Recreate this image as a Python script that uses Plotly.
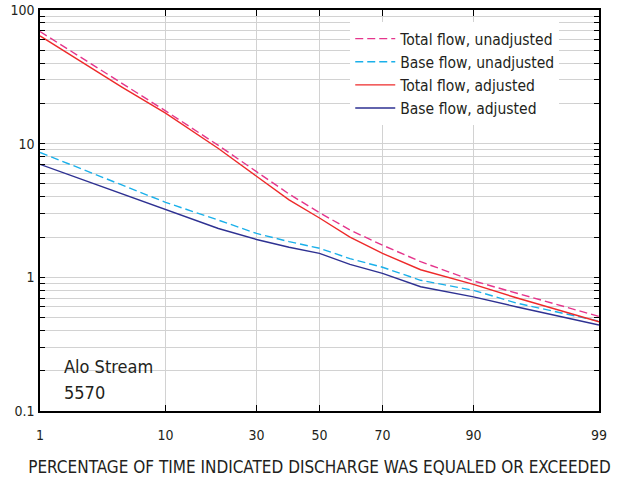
import plotly.graph_objects as go
from statistics import NormalDist

# ---- data ----
percent_exceeded = [1, 5, 10, 20, 30, 40, 50, 60, 70, 80, 90, 95, 99]
total_unadjusted = [69, 28.3, 17.6, 9.7, 6.2, 4.2, 3.05, 2.26, 1.74, 1.31, 0.94, 0.76, 0.51]
base_unadjusted = [8.6, 4.9, 3.64, 2.68, 2.13, 1.85, 1.65, 1.38, 1.19, 0.95, 0.80, 0.64, 0.47]
total_adjusted = [64, 26.5, 16.9, 9.2, 5.7, 3.8, 2.78, 2.0, 1.51, 1.14, 0.885, 0.70, 0.465]
base_adjusted = [7.0, 4.2, 3.22, 2.32, 1.92, 1.68, 1.51, 1.25, 1.07, 0.85, 0.715, 0.60, 0.44]

x_tick_labels = [1, 10, 30, 50, 70, 90, 99]
y_major = [0.1, 1, 10, 100]

nd = NormalDist()
def prob(p):
    return nd.inv_cdf(p / 100.0)

xz = [prob(p) for p in percent_exceeded]

FONT = "DejaVu Sans Condensed, Roboto, sans-serif"
TXT = "#231f20"

fig = go.Figure()
series = [
    ("Total flow, unadjusted", total_unadjusted, "#e5358c", "8px,4px"),
    ("Base flow, unadjusted", base_unadjusted, "#1ab0ea", "8px,4px"),
    ("Total flow, adjusted", total_adjusted, "#ee2a2a", "solid"),
    ("Base flow, adjusted", base_adjusted, "#2e3192", "solid"),
]
for name, vals, color, dash in series:
    fig.add_trace(go.Scatter(x=xz, y=vals, mode="lines", name=name,
                             line=dict(color=color, width=1.4, dash=dash)))

# y ticks: every 1..9 multiple per decade, labels only at decades
y_tickvals, y_ticktext = [], []
for d in [0.1, 1, 10]:
    for m in range(1, 10):
        v = round(d * m, 6)
        y_tickvals.append(v)
        y_ticktext.append(("%g" % v) if m == 1 else "")
y_tickvals.append(100)
y_ticktext.append("100")

fig.update_layout(
    width=630, height=482,
    margin=dict(l=40, r=31, t=10, b=71, autoexpand=False),
    paper_bgcolor="white", plot_bgcolor="white",
    font=dict(family=FONT, color=TXT, size=14),
    showlegend=True,
    legend=dict(x=0.555, y=0.97, xanchor="left", yanchor="top",
                bgcolor="white", borderwidth=0,
                font=dict(size=15.5, family=FONT, color=TXT),
                tracegroupgap=0, itemwidth=40),
    xaxis=dict(
        range=[prob(1), prob(99)],
        tickvals=[prob(p) for p in x_tick_labels],
        ticktext=[str(p) for p in x_tick_labels],
        showgrid=True, gridcolor="#d2d2d2", gridwidth=1.4,
        zeroline=False, automargin=False,
        showline=True, linecolor="black", linewidth=1.5, mirror="ticks",
        ticks="inside", ticklen=6, tickcolor="black", tickwidth=1.3,
        tickfont=dict(size=14),
        ticklabelstandoff=10,
        title=dict(text="PERCENTAGE OF TIME INDICATED DISCHARGE WAS EQUALED OR EXCEEDED",
                   font=dict(size=17), standoff=20),
    ),
    yaxis=dict(
        type="log", range=[-1, 2],
        tickvals=y_tickvals, ticktext=y_ticktext,
        showgrid=True, gridcolor="#d2d2d2", gridwidth=1.4,
        zeroline=False, automargin=False,
        showline=True, linecolor="black", linewidth=1.5, mirror="ticks",
        ticks="inside", ticklen=5, tickcolor="black", tickwidth=1.3,
        tickfont=dict(size=14),
        ticklabelstandoff=1,
    ),
    annotations=[
        dict(x=0.039, y=0.11, xref="paper", yref="paper",
             xanchor="left", yanchor="middle", align="left", showarrow=False,
             text="Alo Stream", font=dict(size=18, family=FONT, color=TXT)),
        dict(x=0.039, y=0.047, xref="paper", yref="paper",
             xanchor="left", yanchor="middle", align="left", showarrow=False,
             text="5570", font=dict(size=18, family=FONT, color=TXT)),
    ],
)

fig.write_html("out.html", config={"displayModeBar": False},
               post_script="document.body.style.margin='0';")
